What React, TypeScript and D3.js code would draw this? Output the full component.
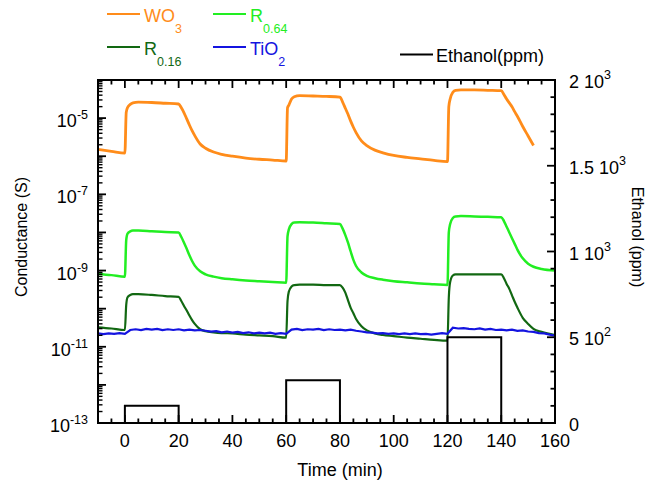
import * as d3 from "d3";

const width = 648;
const height = 481;
const margin = { top: 80, right: 93, bottom: 58, left: 98 };
const innerW = width - margin.left - margin.right;
const innerH = height - margin.top - margin.bottom;

// sampling times (min) shared by the smooth sensor curves
const time = [
  -10, -5, 0, 0.5, 1, 2, 3, 5, 10, 15, 20, 21, 22, 23, 24, 25, 26, 28, 30, 33, 36, 40, 45, 50, 55,
  60, 60.5, 61, 62, 63, 65, 70, 75, 80, 81, 82, 83, 84, 85, 86, 88, 90, 93, 96, 100, 105, 110, 115,
  120, 120.5, 121, 122, 123, 125, 130, 135, 140, 141, 142, 143, 144, 145, 146, 148, 150, 152, 155, 160,
];

// log10 of conductance (S)
const wo3 = [
  -5.82, -5.87, -5.92, -4.85, -4.72, -4.64, -4.6, -4.58, -4.59, -4.61, -4.63, -4.73, -4.86, -5.02, -5.18, -5.33, -5.46, -5.68, -5.79, -5.89, -5.95, -6.0, -6.05, -6.08, -6.1,
  -6.125, -4.73, -4.66, -4.5, -4.44, -4.41, -4.42, -4.43, -4.45, -4.58, -4.74, -4.9, -5.08, -5.24, -5.38, -5.6, -5.72, -5.84, -5.91, -5.98, -6.03, -6.07, -6.11,
  -6.14, -4.7, -4.5, -4.32, -4.27, -4.26, -4.26, -4.27, -4.28, -4.38, -4.5, -4.6, -4.7, -4.83, -4.95, -5.22, -5.47, -5.72, null, null,
];
const r064 = [
  -9.09, -9.12, -9.16, -8.2, -8.03, -7.97, -7.95, -7.95, -7.97, -7.99, -8.0, -8.12, -8.27, -8.43, -8.6, -8.75, -8.87, -9.02, -9.1, -9.16, -9.2, -9.23, -9.26, -9.28, -9.3,
  -9.32, -8.1, -7.92, -7.78, -7.74, -7.73, -7.74, -7.76, -7.78, -7.9, -8.07, -8.27, -8.5, -8.72, -8.88, -9.05, -9.14, -9.2, -9.24, -9.28, -9.31, -9.34, -9.36,
  -9.38, -8.0, -7.78, -7.62, -7.58, -7.57, -7.58, -7.59, -7.6, -7.7, -7.85, -8.0, -8.15, -8.3, -8.45, -8.68, -8.82, -8.9, -8.96, -9.0,
];
const r016 = [
  -10.49, -10.52, -10.56, -9.9, -9.7, -9.64, -9.62, -9.62, -9.64, -9.67, -9.69, -9.8, -9.93, -10.05, -10.18, -10.3, -10.4, -10.54, -10.59, -10.62, -10.64, -10.65, -10.68, -10.7, -10.72,
  -10.76, -9.8, -9.55, -9.42, -9.38, -9.37, -9.37, -9.38, -9.38, -9.45, -9.58, -9.78, -9.98, -10.12, -10.27, -10.46, -10.57, -10.65, -10.69, -10.72, -10.76, -10.79, -10.82,
  -10.84, -9.7, -9.3, -9.13, -9.1, -9.1, -9.1, -9.1, -9.1, -9.2, -9.35, -9.48, -9.65, -9.82, -9.97, -10.24, -10.4, -10.53, -10.61, -10.69,
];

const tio2Time = [
  -10, -8, -6, -4, -2, 0, 2, 4, 6, 8, 10, 12, 14, 16, 18, 20, 22, 24, 26, 28, 30, 32, 34, 36, 38, 40, 42, 44, 46, 48, 50, 52, 54, 56, 58,
  60, 62, 64, 66, 68, 70, 72, 74, 76, 78, 80, 82, 84, 86, 88, 90, 92, 94, 96, 98, 100, 102, 104, 106, 108, 110, 112, 114, 116, 118,
  120, 122, 124, 126, 128, 130, 132, 134, 136, 138, 140, 142, 144, 146, 148, 150, 152, 154, 156, 158, 160,
];
const tio2 = [
  -10.65, -10.67, -10.65, -10.66, -10.64, -10.66, -10.56, -10.54, -10.56, -10.53, -10.55, -10.53, -10.56, -10.54, -10.56, -10.54, -10.57, -10.55, -10.57, -10.56, -10.58, -10.6, -10.59, -10.62, -10.6, -10.63, -10.61, -10.64, -10.62, -10.65, -10.63, -10.65, -10.63, -10.66, -10.64,
  -10.66, -10.55, -10.53, -10.56, -10.54, -10.55, -10.53, -10.56, -10.54, -10.56, -10.55, -10.57, -10.55, -10.58, -10.6, -10.62, -10.63, -10.65, -10.64, -10.66, -10.65, -10.67, -10.65, -10.67, -10.65, -10.67, -10.66, -10.68, -10.66, -10.64,
  -10.66, -10.5, -10.52, -10.51, -10.53, -10.54, -10.52, -10.55, -10.53, -10.56, -10.55, -10.57, -10.55, -10.58, -10.57, -10.6, -10.61, -10.64, -10.65, -10.68, -10.71,
];

const ethanolTime = [0, 0, 20, 20, 60, 60, 80, 80, 120, 120, 140, 140, 160];
const ethanolPpm = [0, 100, 100, 0, 0, 250, 250, 0, 0, 500, 500, 0, 0];

const xTicks = [0, 20, 40, 60, 80, 100, 120, 140, 160];
const leftLabelExps = [-13, -11, -9, -7, -5];
const rightTicks = [0, 500, 1000, 1500, 2000];
const rightLabels = [["0", ""], ["5 10", "2"], ["1 10", "3"], ["1.5 10", "3"], ["2 10", "3"]];

const colors = { wo3: "#ff8c1a", r064: "#22ee22", r016: "#126812", tio2: "#1414e0", eth: "#000000" };
const font = "'Liberation Sans', Arial, sans-serif";

function App() {
  const x = d3.scaleLinear().domain([-10, 160]).range([0, innerW]);
  const y = d3.scaleLog().domain([1e-13, 1e-4]).range([innerH, 0]);
  const y2 = d3.scaleLinear().domain([0, 2000]).range([innerH, 0]);

  const logLine = d3
    .line<[number, number | null]>()
    .defined((d) => d[1] !== null)
    .x((d) => x(d[0]))
    .y((d) => y(Math.pow(10, d[1] as number)))
    .curve(d3.curveMonotoneX);
  const noisyLine = d3
    .line<[number, number]>()
    .x((d) => x(d[0]))
    .y((d) => y(Math.pow(10, d[1])));
  const ethLine = d3
    .line<[number, number]>()
    .x((d) => x(d[0]))
    .y((d) => y2(d[1]));

  const pair = (ts: number[], vs: (number | null)[]) => ts.map((t, i) => [t, vs[i]] as [number, number | null]);

  const xMinor = d3.range(-10, 161, 5);
  const decades = d3.range(-13, -4);
  const yMinor: number[] = [];
  decades.forEach((e) => d3.range(2, 10).forEach((m) => yMinor.push(m * Math.pow(10, e))));
  const y2Minor = d3.range(0, 2001, 100);

  const legendItems = [
    { key: "wo3", lx: 107, ly: 14, main: "WO", sub: "3" },
    { key: "r064", lx: 213, ly: 14, main: "R", sub: "0.64" },
    { key: "r016", lx: 107, ly: 47, main: "R", sub: "0.16" },
    { key: "tio2", lx: 213, ly: 47, main: "TiO", sub: "2" },
  ];

  return (
    <svg width={width} height={height} style={{ position: "absolute", left: 0, top: 0 }} fontFamily={font}>
      <rect width={width} height={height} fill="#fff" />
      <g transform={`translate(${margin.left},${margin.top})`}>
        {/* data */}
        <path d={logLine(pair(time, wo3)) || ""} fill="none" stroke={colors.wo3} strokeWidth={2.8} />
        <path d={logLine(pair(time, r064)) || ""} fill="none" stroke={colors.r064} strokeWidth={2.5} />
        <path d={logLine(pair(time, r016)) || ""} fill="none" stroke={colors.r016} strokeWidth={2.2} />
        <path d={noisyLine(pair(tio2Time, tio2) as [number, number][]) || ""} fill="none" stroke={colors.tio2} strokeWidth={2.2} />
        <path d={ethLine(pair(ethanolTime, ethanolPpm) as [number, number][]) || ""} fill="none" stroke={colors.eth} strokeWidth={2} />

        {/* frame */}
        <rect x={0} y={0} width={innerW} height={innerH} fill="none" stroke="#000" strokeWidth={2} />

        {/* bottom / top ticks */}
        {xMinor.map((t) => {
          const major = t % 20 === 0;
          const len = major ? 8 : 4.5;
          return (
            <g key={"x" + t}>
              <line x1={x(t)} x2={x(t)} y1={innerH} y2={innerH - len} stroke="#000" strokeWidth={1.8} />
              <line x1={x(t)} x2={x(t)} y1={0} y2={len} stroke="#000" strokeWidth={1.8} />
            </g>
          );
        })}
        {xTicks.map((t) => (
          <text key={"xl" + t} x={x(t)} y={innerH + 24} fontSize={18} textAnchor="middle">
            {t}
          </text>
        ))}
        <text x={340 - margin.left} y={innerH + 53} fontSize={18} textAnchor="middle">
          Time (min)
        </text>

        {/* left log axis */}
        {decades.concat([-4]).map((e) => (
          <line key={"yd" + e} x1={0} x2={8} y1={y(Math.pow(10, e))} y2={y(Math.pow(10, e))} stroke="#000" strokeWidth={1.8} />
        ))}
        {yMinor.map((v, i) => (
          <line key={"ym" + i} x1={0} x2={4.5} y1={y(v)} y2={y(v)} stroke="#000" strokeWidth={1.4} />
        ))}
        {leftLabelExps.map((e) => (
          <text key={"yl" + e} x={-10} y={y(Math.pow(10, e)) + 9} fontSize={18} textAnchor="end">
            10
            <tspan dy={-8} fontSize={12.5}>
              {e}
            </tspan>
          </text>
        ))}
        <text transform={`translate(${21 - margin.left},${237 - margin.top}) rotate(-90)`} fontSize={16} textAnchor="middle" dy="0.35em">
          Conductance (S)
        </text>

        {/* right linear axis */}
        {y2Minor.map((v) => {
          const major = v % 500 === 0;
          return (
            <line key={"r" + v} x1={innerW} x2={innerW - (major ? 8 : 4.5)} y1={y2(v)} y2={y2(v)} stroke="#000" strokeWidth={1.8} />
          );
        })}
        {rightTicks.map((v, i) => (
          <text key={"rl" + v} x={innerW + 14} y={y2(v) + 8} fontSize={18}>
            {rightLabels[i][0]}
            {rightLabels[i][1] && (
              <tspan dy={-9} fontSize={12.5}>
                {rightLabels[i][1]}
              </tspan>
            )}
          </text>
        ))}
        <text transform={`translate(${638 - margin.left},${237 - margin.top}) rotate(90)`} fontSize={16} textAnchor="middle" dy="0.35em">
          Ethanol (ppm)
        </text>
      </g>

      {/* legend */}
      {legendItems.map((it) => (
        <g key={it.key}>
          <line x1={it.lx} x2={it.lx + 33} y1={it.ly} y2={it.ly} stroke={(colors as any)[it.key]} strokeWidth={2} />
          <text x={it.lx + 37} y={it.ly + 8} fontSize={18} fill={(colors as any)[it.key]}>
            {it.main}
            <tspan dy={11} fontSize={12.5}>
              {it.sub}
            </tspan>
          </text>
        </g>
      ))}
      <line x1={400} x2={433} y1={54.5} y2={54.5} stroke="#000" strokeWidth={2} />
      <text x={436} y={62} fontSize={18}>
        Ethanol(ppm)
      </text>
    </svg>
  );
}

export default App;
